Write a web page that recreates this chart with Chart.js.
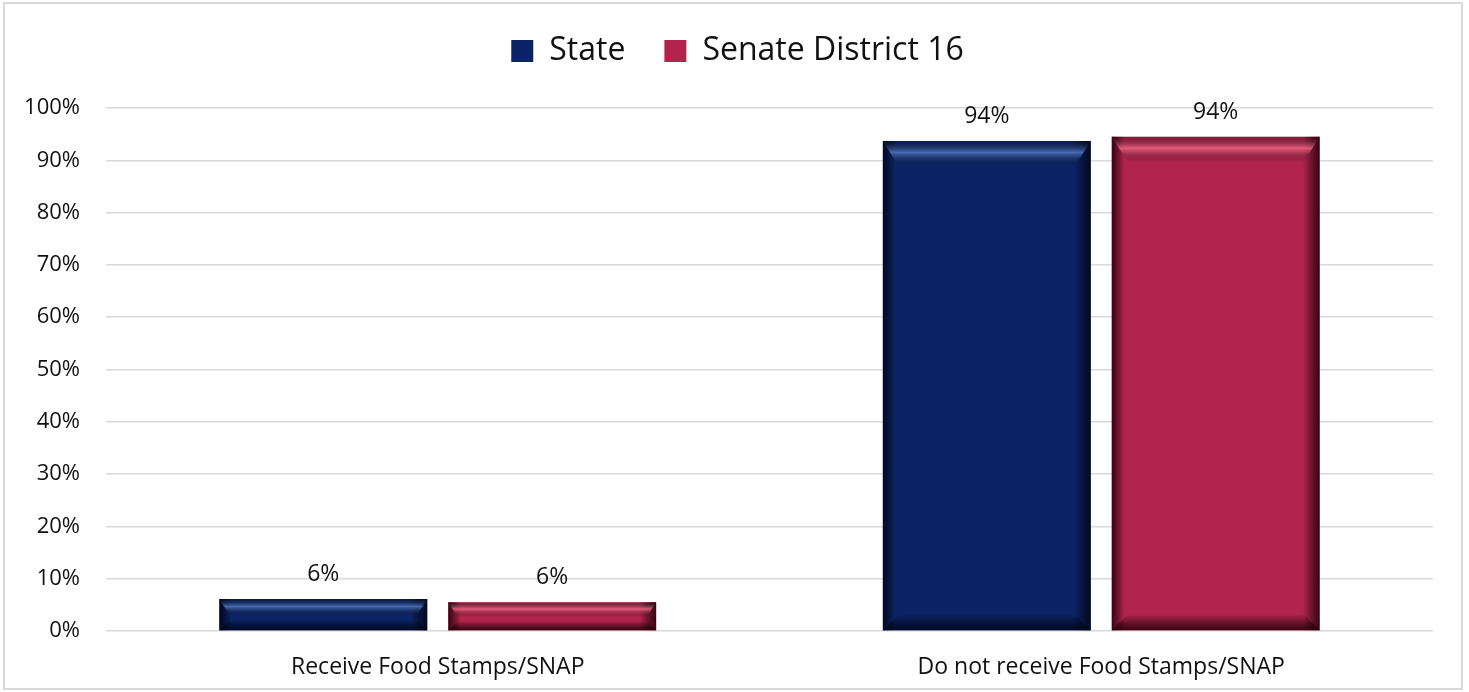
<!DOCTYPE html>
<html>
<head>
<meta charset="utf-8">
<title>Food Stamps/SNAP</title>
<script src="https://cdn.jsdelivr.net/npm/chart.js@4.4.0/dist/chart.umd.min.js"></script>
<style>
    html, body { margin: 0; padding: 0; background: #fff; }
    #wrap { position: relative; width: 1469px; height: 692px; }
    #frame {
        position: absolute; left: 3px; top: 2px; width: 1456px; height: 684px;
        border: 2px solid #d9d9d9; pointer-events: none;
    }
</style>
</head>
<body>
<div id="wrap">
    <canvas id="snapChart" width="1469" height="692"></canvas>
    <div id="frame"></div>
</div>
<script>
// --- DATA ---
const categories = ['Receive Food Stamps/SNAP', 'Do not receive Food Stamps/SNAP'];
const seriesNames = ['State', 'Senate District 16'];
const stateValues = [6.1, 93.7];
const districtValues = [5.5, 94.5];
const valueLabels = [['6%', '94%'], ['6%', '94%']];
const yTicks = [0, 10, 20, 30, 40, 50, 60, 70, 80, 90, 100];

// warna dasar + bevel
const palette = [
    { base: '#0b2466', light: 'rgba(90,130,210,0.75)', dark: 'rgba(0,6,30,0.9)' },
    { base: '#b3244d', light: 'rgba(250,110,140,0.75)', dark: 'rgba(45,0,12,0.9)' }
];

const FONT = "'Open Sans', 'DejaVu Sans', sans-serif";
const LEGEND_HEIGHT = 112;
const LEGEND_SHIFT = 21; // legend dipusatkan ke seluruh kanvas, bukan area plot

// --- PLUGIN: tinggi legend tetap + geser ke tengah ---
const legendSpace = {
    id: 'legendSpace',
    beforeInit(chart) {
        const origFit = chart.legend.fit;
        chart.legend.fit = function () {
            origFit.bind(chart.legend)();
            this.height = LEGEND_HEIGHT;
        };
    },
    afterLayout(chart) {
        chart.legend.left += LEGEND_SHIFT;
        chart.legend.right += LEGEND_SHIFT;
    }
};

// --- PLUGIN: efek bevel pada batang ---
const bevelBars = {
    id: 'bevelBars',
    afterDatasetsDraw(chart) {
        const ctx = chart.ctx;
        chart.data.datasets.forEach((ds, di) => {
            const meta = chart.getDatasetMeta(di);
            const col = palette[di];
            meta.data.forEach((bar) => {
                const w = bar.width;
                const left = bar.x - w / 2;
                const top = bar.y;
                const h = bar.base - bar.y;
                const b = Math.min(16, h / 3);
                ctx.save();
                // sisi kiri & kanan gelap
                let g = ctx.createLinearGradient(left, 0, left + w, 0);
                g.addColorStop(0, col.dark);
                g.addColorStop(0.06, 'rgba(0,0,0,0)');
                g.addColorStop(0.92, 'rgba(0,0,0,0)');
                g.addColorStop(1, col.dark);
                ctx.fillStyle = g;
                ctx.fillRect(left, top, w, h);
                // highlight atas
                g = ctx.createLinearGradient(0, top, 0, top + b * 1.6);
                g.addColorStop(0, 'rgba(0,0,0,0.25)');
                g.addColorStop(0.45, col.light);
                g.addColorStop(1, 'rgba(0,0,0,0)');
                ctx.fillStyle = g;
                ctx.beginPath();
                ctx.moveTo(left, top);
                ctx.lineTo(left + w, top);
                ctx.lineTo(left + w - b, top + b * 1.6);
                ctx.lineTo(left + b, top + b * 1.6);
                ctx.closePath();
                ctx.fill();
                // bayangan bawah
                g = ctx.createLinearGradient(0, bar.base - b, 0, bar.base);
                g.addColorStop(0, 'rgba(0,0,0,0)');
                g.addColorStop(1, col.dark);
                ctx.fillStyle = g;
                ctx.beginPath();
                ctx.moveTo(left + b, bar.base - b);
                ctx.lineTo(left + w - b, bar.base - b);
                ctx.lineTo(left + w, bar.base);
                ctx.lineTo(left, bar.base);
                ctx.closePath();
                ctx.fill();
                ctx.restore();
            });
        });
    }
};

// --- PLUGIN: label nilai di atas batang ---
const valueText = {
    id: 'valueText',
    afterDatasetsDraw(chart) {
        const ctx = chart.ctx;
        ctx.save();
        ctx.font = '23px ' + FONT;
        ctx.fillStyle = '#111';
        ctx.textAlign = 'center';
        ctx.textBaseline = 'alphabetic';
        chart.data.datasets.forEach((ds, di) => {
            chart.getDatasetMeta(di).data.forEach((bar, i) => {
                ctx.fillText(valueLabels[di][i], bar.x, bar.y - 18);
            });
        });
        ctx.restore();
    }
};

new Chart(document.getElementById('snapChart'), {
    type: 'bar',
    data: {
        labels: categories,
        datasets: [
            { label: seriesNames[0], data: stateValues, backgroundColor: palette[0].base },
            { label: seriesNames[1], data: districtValues, backgroundColor: palette[1].base }
        ]
    },
    options: {
        responsive: false,
        animation: false,
        categoryPercentage: 0.69,
        barPercentage: 0.908,
        layout: { padding: { left: 0, right: 36, top: -4, bottom: 0 } },
        plugins: {
            legend: {
                position: 'top',
                labels: {
                    font: { family: FONT, size: 32 },
                    color: '#111',
                    boxWidth: 22,
                    boxHeight: 22,
                    padding: 39
                }
            },
            tooltip: { enabled: false }
        },
        scales: {
            x: {
                grid: { display: false },
                border: { display: false },
                ticks: { font: { family: FONT, size: 23 }, color: '#111', padding: 15 },
                afterFit: (s) => { s.height = 61; }
            },
            y: {
                min: 0,
                max: 100,
                afterBuildTicks: (s) => { s.ticks = yTicks.map(v => ({ value: v })); },
                grid: { color: '#d9d9d9', lineWidth: 1.5, drawTicks: false },
                border: { display: false },
                ticks: {
                    font: { family: FONT, size: 22 },
                    color: '#111',
                    padding: 26,
                    callback: (v) => v + '%'
                },
                afterFit: (s) => { s.width = 106; }
            }
        }
    },
    plugins: [legendSpace, bevelBars, valueText]
});
</script>
</body>
</html>
